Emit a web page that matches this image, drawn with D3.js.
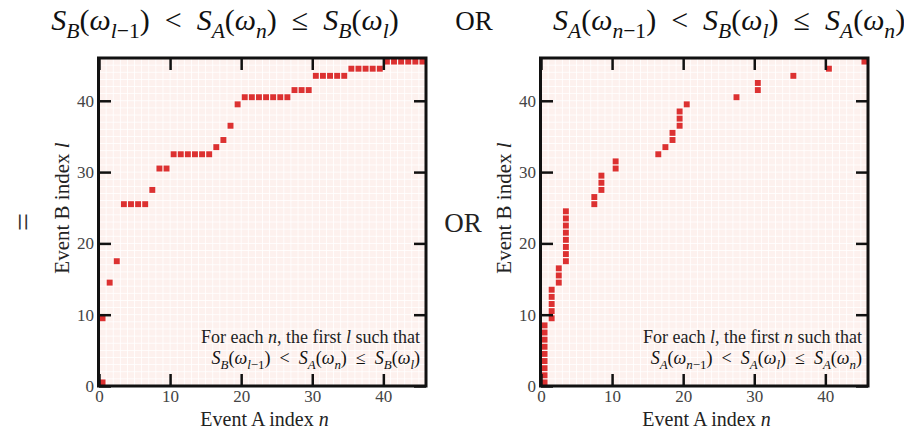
<!DOCTYPE html>
<html>
<head>
<meta charset="utf-8">
<script src="https://cdn.jsdelivr.net/npm/d3@7"></script>
<style>
  body { margin: 0; background: #fff; }
  text { font-family: "Liberation Serif", "DejaVu Serif", serif; white-space: pre; }
</style>
</head>
<body>
<div id="chart"></div>
<script>
// left panel: for each n (event A), the matched l (event B)
var leftN = [0, 0, 1, 2, 3, 4, 5, 6, 7, 8, 9, 10, 11, 12, 13, 14, 15, 16, 17, 18, 19,
             20, 21, 22, 23, 24, 25, 26, 27, 28, 29, 30, 31, 32, 33, 34, 35, 36, 37, 38, 39,
             40, 41, 42, 43, 44, 45];
var leftL = [0, 9, 14, 17, 25, 25, 25, 25, 27, 30, 30, 32, 32, 32, 32, 32, 32, 33, 34, 36, 39,
             40, 40, 40, 40, 40, 40, 40, 41, 41, 41, 43, 43, 43, 43, 43, 44, 44, 44, 44, 44,
             45, 45, 45, 45, 45, 45];
// right panel: for each l (event B, 0..45), the matched n (event A)
var rightL = d3.range(0, 46);
var rightN = [0, 0, 0, 0, 0, 0, 0, 0, 0, 1, 1, 1, 1, 1, 2, 2, 2, 3, 3, 3, 3, 3, 3, 3, 3,
              7, 7, 8, 8, 8, 10, 10, 16, 17, 18, 18, 19, 19, 19, 20, 27, 30, 30, 35, 40, 45];
var ticks = [0, 10, 20, 30, 40];
var gridSize = 46;

var W = 904, H = 429;
var svg = d3.select("#chart").append("svg")
    .attr("width", W).attr("height", H);

// small helper to write math with italic letters and subscripts
function mathText(g, x, y, size, anchor, parts) {
    var t = g.append("text")
        .attr("x", x).attr("y", y)
        .attr("font-size", size)
        .attr("text-anchor", anchor)
        .attr("fill", "#111");
    var shift = 0;
    parts.forEach(function(p) {
        var sub = p[1].indexOf("s") === 0;
        var want = sub ? size * 0.25 : 0;
        t.append("tspan").text(p[0])
            .attr("dy", want - shift)
            .attr("font-size", sub ? size * 0.72 : size)
            .attr("font-style", p[1].indexOf("i") > -1 ? "italic" : "normal");
        shift = want;
    });
    return t;
}

// S_a(ω_b..) < S_c(ω_d) ≤ S_e(ω_f)
function formula(a, b, c, d, e, f) {
    return [["S", "i"], [a, "si"], ["(", "r"], ["ω", "i"], [b, "si"], ["−1", "sr"], [")", "r"],
            ["  <  ", "r"], ["S", "i"], [c, "si"], ["(", "r"], ["ω", "i"], [d, "si"], [")", "r"],
            ["  ≤  ", "r"], ["S", "i"], [e, "si"], ["(", "r"], ["ω", "i"], [f, "si"], [")", "r"]];
}

function panel(left, pts, note1, note2) {
    var x0 = left, x1 = left + 327, y0 = 58, y1 = 386;
    var x = d3.scaleLinear().domain([0, gridSize]).range([x0, x1]);
    var y = d3.scaleLinear().domain([0, gridSize]).range([y1, y0]);
    var g = svg.append("g");

    // pale background cells
    var cells = [];
    d3.range(gridSize).forEach(function(i) {
        d3.range(gridSize).forEach(function(j) { cells.push([i, j]); });
    });
    g.append("rect").attr("x", x0).attr("y", y0)
        .attr("width", x1 - x0).attr("height", y1 - y0).attr("fill", "#fff");
    g.selectAll(".bg").data(cells).enter().append("rect")
        .attr("x", d => x(d[0]) + 0.4)
        .attr("y", d => y(d[1] + 1) + 0.4)
        .attr("width", x(1) - x(0) - 0.8)
        .attr("height", y(0) - y(1) - 0.8)
        .attr("fill", "#fdf1ee");

    g.selectAll(".pt").data(pts).enter().append("rect")
        .attr("x", d => x(d[0]) + 0.6)
        .attr("y", d => y(d[1] + 1) + 0.6)
        .attr("width", x(1) - x(0) - 1.2)
        .attr("height", y(0) - y(1) - 1.2)
        .attr("fill", "#dc3131");

    // ticks on all four sides, pointing in
    var tl = 12;
    g.append("g").attr("transform", `translate(0,${y1})`)
        .call(d3.axisBottom(x).tickValues(ticks).tickSize(-tl).tickPadding(4))
        .call(s => s.select(".domain").remove());
    g.append("g").attr("transform", `translate(0,${y0})`)
        .call(d3.axisTop(x).tickValues(ticks).tickSize(-tl).tickFormat(""))
        .call(s => s.select(".domain").remove());
    g.append("g").attr("transform", `translate(${x0},0)`)
        .call(d3.axisLeft(y).tickValues(ticks).tickSize(-tl).tickPadding(5))
        .call(s => s.select(".domain").remove());
    g.append("g").attr("transform", `translate(${x1},0)`)
        .call(d3.axisRight(y).tickValues(ticks).tickSize(-tl).tickFormat(""))
        .call(s => s.select(".domain").remove());
    g.selectAll(".tick line").attr("stroke", "#111").attr("stroke-width", 2.5);
    g.selectAll(".tick text")
        .attr("font-size", 17).attr("fill", "#444");

    g.append("rect").attr("x", x0 - 0.5).attr("y", y0)
        .attr("width", x1 - x0 + 0.5).attr("height", y1 - y0)
        .attr("fill", "none").attr("stroke", "#111").attr("stroke-width", 3);

    // axis labels
    g.append("text")
        .attr("transform", `translate(${x0 - 30},${(y0 + y1) / 2 - 14}) rotate(-90)`)
        .attr("text-anchor", "middle").attr("font-size", 21).attr("fill", "#222")
        .html('Event B index <tspan font-style="italic">l</tspan>');
    g.append("text")
        .attr("x", (x0 + x1) / 2 + 2).attr("y", 426)
        .attr("text-anchor", "middle").attr("font-size", 20).attr("fill", "#222")
        .html('Event A index <tspan font-style="italic">n</tspan>');

    // note in lower right
    g.append("text").attr("x", x1 - 6).attr("y", 343)
        .attr("text-anchor", "end").attr("font-size", 18).attr("fill", "#222")
        .html(note1);
    mathText(g, x1 - 6, 364, 18, "end", note2);
}

var leftPts = leftN.map((n, i) => [n, leftL[i]]);
var rightPts = rightL.map((l, i) => [rightN[i], l]);

panel(99, leftPts,
    'For each <tspan font-style="italic">n</tspan>, the first <tspan font-style="italic">l</tspan> such that',
    formula("B", "l", "A", "n", "B", "l"));
panel(541, rightPts,
    'For each <tspan font-style="italic">l</tspan>, the first <tspan font-style="italic">n</tspan> such that',
    [["S", "i"], ["A", "si"], ["(", "r"], ["ω", "i"], ["n", "si"], ["−1", "sr"], [")", "r"],
     ["  <  ", "r"], ["S", "i"], ["A", "si"], ["(", "r"], ["ω", "i"], ["l", "si"], [")", "r"],
     ["  ≤  ", "r"], ["S", "i"], ["A", "si"], ["(", "r"], ["ω", "i"], ["n", "si"], [")", "r"]]);

// titles
mathText(svg, 225, 30, 30, "middle", formula("B", "l", "A", "n", "B", "l"));
svg.append("text").attr("x", 474).attr("y", 30).attr("text-anchor", "middle")
    .attr("font-size", 27).attr("fill", "#111").text("OR");
mathText(svg, 553, 30, 30, "start",
    [["S", "i"], ["A", "si"], ["(", "r"], ["ω", "i"], ["n", "si"], ["−1", "sr"], [")", "r"],
     ["  <  ", "r"], ["S", "i"], ["B", "si"], ["(", "r"], ["ω", "i"], ["l", "si"], [")", "r"],
     ["  ≤  ", "r"], ["S", "i"], ["A", "si"], ["(", "r"], ["ω", "i"], ["n", "si"], [")", "r"]]);

// side markers: an equals sign turned on its side, and "OR"
svg.append("g").attr("transform", "translate(22,222) rotate(90)")
    .append("text")
    .attr("text-anchor", "middle").attr("dy", "0.3em")
    .attr("font-size", 32).attr("fill", "#333").text("=");
svg.append("text").attr("x", 463).attr("y", 232).attr("text-anchor", "middle")
    .attr("font-size", 27).attr("fill", "#222").text("OR");
</script>
</body>
</html>
